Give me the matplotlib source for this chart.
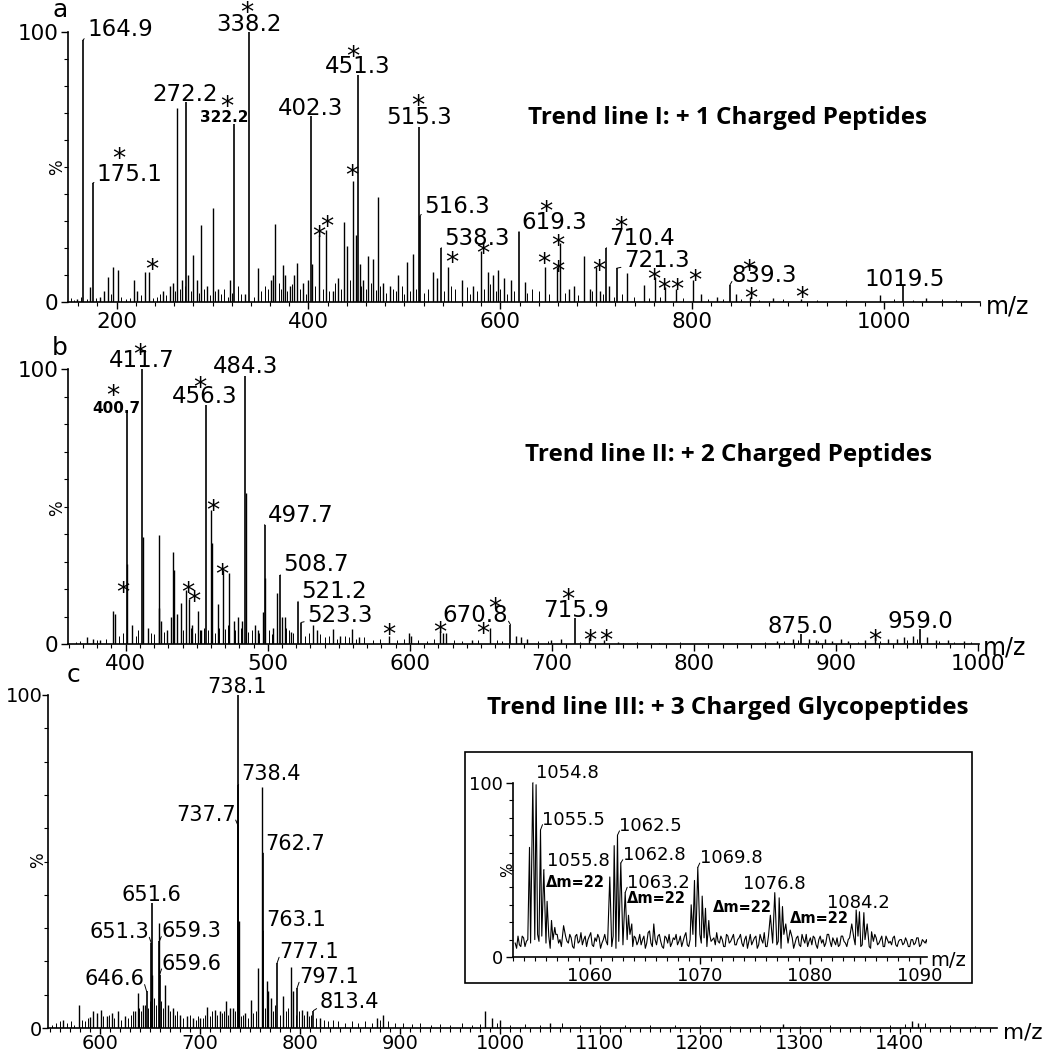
import numpy as np
import matplotlib
matplotlib.use("Agg")
import matplotlib.pyplot as plt
from matplotlib.patches import Rectangle
from matplotlib.ticker import MultipleLocator

# ---------------- panel a : +1 charged peptides ----------------
a_lab_mz = [164.9, 175.1, 272.2, 322.2, 338.2, 402.3, 451.3, 515.3, 516.3, 538.3,
            619.3, 710.4, 721.3, 839.3, 1019.5]
a_lab_int = [97, 44, 74, 66, 100, 69, 84, 65, 32, 20, 26, 20, 12.5, 6.3, 6]

a_mz = [158.6, 172.2, 182.6, 186.8, 191.0, 196.2, 201.4, 218.1, 221.3, 229.6,
        233.8, 248.4, 255.7, 258.9, 263.0, 268.3, 274.5, 279.7, 283.9, 288.1,
        294.4, 300.6, 305.8, 318.4, 334.0, 347.6, 361.1, 363.2, 365.3, 373.6,
        375.7, 380.9, 385.1, 388.2, 394.5, 399.7, 403.8, 411.1, 418.4, 425.7,
        430.9, 437.2, 440.3, 446.6, 449.7, 453.9, 457.0, 462.2, 467.4, 472.6,
        477.8, 485.1, 493.5, 502.8, 509.1, 530.0, 534.2, 545.8, 560.5, 572.0,
        579.4, 586.7, 592.0, 597.2, 603.5, 610.9, 625.2, 646.5, 659.4, 661.9,
        671.1, 676.6, 687.6, 693.2, 699.4, 704.2, 713.4, 732.5, 749.4, 761.2,
        771.5, 783.2, 800.9, 809.0, 825.5, 845.7, 860.4, 884.2, 913.6, 995.6,
        1044.1]
a_int = [1, 5.7, 2, 4, 9.4, 13, 11.8, 8, 4, 11,
         11, 4, 6, 7, 72, 8, 10, 17.4, 8, 28.5,
         6, 34.7, 5, 8, 3, 12.5, 8, 10, 29, 13.7,
         10, 6, 10, 14.4, 7, 8, 14, 24.8, 26.7, 4,
         9, 29.6, 20.7, 45, 25, 14, 8, 17, 16, 39,
         7, 6, 10, 15, 17.8, 11, 9, 13, 8, 6,
         19, 11, 10, 12, 9, 8, 7.5, 13, 13, 22,
         5, 6, 17, 5, 13, 4, 6, 10.6, 6.3, 9.4,
         5.7, 5, 8, 3, 2, 3, 2, 1.5, 1, 2.5,
         1.5]
a_grass_mz = [152, 156, 163, 169, 178, 194, 205, 210, 214, 225, 238, 242, 245, 251, 261,
              266, 271, 277, 286, 291, 297, 303, 309, 312, 316, 320, 326, 330, 343, 351,
              355, 358, 369, 371, 378, 383, 391, 397, 407, 415, 421, 428, 434, 443, 455,
              460, 465, 470, 475, 481, 488, 491, 497, 500, 506, 512, 520, 525, 541, 549,
              553, 565, 568, 576, 583, 589, 595, 600, 607, 614, 628, 633, 640, 651, 667,
              681, 696, 707, 718, 727, 739, 755, 766, 790, 816, 832, 851, 870, 895, 930,
              960, 1010, 1030, 1060, 1075]
a_grass_int = [1.5, 0.8, 2, 1, 1.5, 3, 2, 1, 1.5, 2.5, 1.5, 2, 3, 2.5, 4,
               5, 6, 4, 3.5, 5, 2.5, 4, 3, 5, 2, 3.5, 6, 3, 2, 4,
               6, 5, 7, 5, 4, 6.5, 5, 3, 6, 5, 4, 7, 5, 8, 6,
               5, 7, 4.5, 6, 3.5, 5, 4, 6, 3, 4, 5, 3.5, 5, 4, 6,
               5, 5.5, 3, 4, 5, 6.5, 4, 5, 3, 4, 3.5, 5, 4, 3, 3.5,
               2.5, 4, 3, 2, 3, 2, 1.5, 2, 1.5, 1.2, 1, 1.2, 0.8, 1, 0.8,
               0.7, 1.2, 0.8, 1, 0.6]
a_star_mz = [202.5, 236.9, 315.2, 336.0, 446.6, 445.5, 411.1, 419.4, 514.2, 548.9,
             581.5, 647.2, 645.5, 660.2, 659.4, 702.4, 725.5, 760.1, 770.3, 784.3,
             802.7, 858.6, 861.1, 914.3]
a_star_y = [55.5, 14.4, 74.8, 109.6, 93.3, 49.3, 26.7, 30.4, 75.2, 17.0,
            20.4, 36.0, 16.7, 23.3, 13.7, 14.0, 30.0, 10.7, 7.0, 7.0,
            10.4, 14.0, 3.7, 4.0]

# ---------------- panel b : +2 charged peptides ----------------
b_lab_mz = [400.7, 411.7, 456.3, 484.3, 497.7, 508.7, 521.2, 523.3, 670.8, 715.9, 875.0, 959.0]
b_lab_int = [85, 100, 87, 97.5, 43.3, 25, 15.4, 7.8, 7, 9.5, 3.6, 5.5]

b_mz = [372.6, 376.9, 382.0, 391.1, 392.3, 401.2, 404.2, 412.2, 415.5, 423.2,
        424.8, 423.6, 429.0, 431.6, 433.2, 433.9, 436.0, 438.7, 442.3, 444.6,
        447.0, 450.6, 453.0, 460.1, 461.0, 464.9, 468.5, 473.0, 476.0, 479.2,
        482.0, 484.7, 490.8, 493.4, 496.3, 498.2, 504.0, 506.4, 510.3, 511.9,
        516.0, 532.1, 534.5, 545.9, 551.0, 559.4, 564.0, 585.4, 599.6, 600.8,
        621.0, 623.4, 625.7, 643.5, 656.5, 674.8, 678.5, 682.2, 699.6, 706.6,
        725.7, 736.9, 746.8, 858.4, 869.6, 880.8, 885.7, 891.9, 896.9, 903.1,
        908.0, 920.5, 927.4, 936.6, 942.8, 947.7, 954.0, 963.9, 970.0, 978.7,
        989.9]
b_int = [2.7, 2, 1.5, 12, 11, 29, 7, 39, 6, 39.6,
         8.5, 13, 5, 10, 33.6, 27, 11, 15, 19.6, 16.4,
         7, 12, 5, 48.7, 36.7, 14.5, 27, 25.8, 8.5, 10,
         8.5, 55, 7, 5, 11.8, 24, 6, 18.5, 10, 10,
         4.5, 7, 5, 5.5, 3, 5.3, 2.5, 3, 4, 3,
         4.8, 4, 4, 1.5, 5.8, 3, 2.5, 2, 1.5, 2,
         2.5, 1.5, 0.8, 1, 2, 2, 1.5, 2, 1.2, 2,
         1, 1.5, 2.5, 2, 2, 2.5, 3, 2.5, 1.5, 1.5,
         1]
b_grass_mz = [365, 368, 380, 386, 395, 398, 407, 409, 418, 420, 427, 440, 446, 449, 452,
              455, 458, 463, 466, 470, 472, 477, 481, 486, 489, 494, 501, 503, 513, 515,
              518, 526, 529, 537, 540, 543, 549, 554, 557, 562, 568, 574, 579, 591, 596,
              606, 612, 617, 631, 637, 648, 661, 665, 690, 697, 720, 750, 760, 775, 790,
              810, 830, 850, 863, 873, 887, 915, 931, 950, 957, 972, 983, 995]
b_grass_int = [0.8, 1, 1.5, 2, 3, 4, 3, 5, 4, 3.5, 4.5, 5, 6, 4, 5,
               6, 5, 4, 6, 5.5, 7, 5, 6, 4.5, 5, 4, 5, 3.5, 6, 5,
               4, 3, 4, 3.5, 2.5, 3, 2, 3, 2.5, 2, 2.5, 1.5, 2, 1.5, 2,
               1.5, 1, 2, 1.5, 1, 1.5, 1.5, 1, 1.2, 1, 0.8, 0.5, 0.6, 0.5, 0.6,
               0.5, 0.5, 0.6, 1, 1.5, 1, 0.8, 1.2, 1.5, 1.8, 1, 0.8, 0.6]
b_star_mz = [391.1, 409.7, 398.3, 452.5, 461.3, 467.7, 443.5, 448.2, 585.4, 621.0,
             651.0, 659.7, 711.0, 726.7, 737.9, 926.9]
b_star_y = [92.6, 107.5, 21.0, 95.7, 51.0, 27.5, 21.0, 17.8, 5.9, 6.5,
            6.3, 15.4, 18.4, 3.6, 3.6, 3.6]

# ---------------- panel c : +3 charged glycopeptides ----------------
c_lab_mz = [646.6, 651.3, 651.6, 659.3, 659.6, 737.7, 738.1, 738.4, 762.7, 763.1,
            777.1, 797.1, 813.4]
c_lab_int = [11, 25.5, 37.5, 26, 16, 61, 100, 73, 52.5, 29, 19.5, 12, 5.2]

c_mz = [563.3, 578.7, 590.0, 593.3, 596.7, 600.7, 606.7, 611.7, 618.3, 625.0,
        635.0, 637.7, 643.3, 651.9, 659.0, 665.0, 668.3, 672.7, 680.0, 686.7,
        693.3, 700.0, 707.3, 715.0, 720.0, 726.0, 730.0, 733.3, 738.7, 745.0,
        750.7, 758.3, 762.4, 766.7, 768.3, 770.7, 783.3, 790.7, 793.3, 801.7,
        806.7, 820.0, 876.7, 883.3, 985.0, 991.7, 1000.0, 1050.0, 1283.0, 1412.0,
        1418.0]
c_int = [2.5, 7, 3.3, 5, 4.5, 5.5, 3.5, 4.5, 5, 3.5,
         5, 10.5, 7, 16, 31.5, 13, 7, 6, 4, 3.5,
         3, 3, 6.4, 5.5, 5, 8, 6, 6, 32, 4.5,
         8.4, 18, 72.5, 14, 11, 9, 9.5, 18.4, 11, 5.5,
         5, 3, 3, 4, 5, 3, 2.5, 1.5, 1.2, 2,
         1.5]
c_grass_mz = [552, 556, 560, 567, 571, 574, 582, 585, 588, 603, 609, 614, 621, 628, 631,
              633, 639, 641, 645, 648, 650, 654, 656, 661, 663, 670, 675, 677, 683, 690,
              696, 698, 703, 705, 710, 712, 717, 722, 724, 728, 735, 741, 743, 748, 753,
              756, 765, 773, 775, 780, 786, 788, 796, 799, 804, 809, 811, 816, 824, 828,
              833, 838, 845, 852, 858, 865, 872, 880, 888, 895, 903, 912, 920, 931, 940,
              950, 962, 972, 980, 997, 1010, 1025, 1040, 1062, 1080, 1100, 1125, 1150, 1175, 1200,
              1230, 1260, 1300, 1330, 1360, 1390, 1405, 1425, 1450, 1475]
c_grass_int = [1, 1.5, 2, 1.5, 2, 1, 2.5, 2, 3, 3.5, 4, 3, 2.5, 3, 4,
               5, 6, 5, 7, 6, 8, 9, 7, 8, 6, 5, 4, 5, 3, 4,
               2.5, 3.5, 3, 4, 3.5, 5, 4, 4.5, 5, 4, 5, 3.5, 4, 3, 4.5,
               5, 6, 5, 7, 4, 5, 6, 4, 5, 4, 3.5, 4, 3, 2.5, 2,
               2.5, 2, 1.5, 2, 1.5, 2, 1.5, 2.5, 2, 1.5, 1.5, 1.2, 1.5, 1, 1.2,
               1, 1.5, 1, 1.2, 1.5, 1, 1.2, 1, 1.5, 1, 0.8, 1, 0.8, 0.8, 1,
               0.7, 0.8, 0.7, 0.8, 0.7, 0.8, 1.2, 1.5, 0.8, 0.6]

# inset: isotope clusters of the glycopeptide series
ins_mz = [1054.5, 1054.8, 1055.1, 1055.5, 1055.8, 1056.1, 1056.5, 1056.8,
          1061.8, 1062.2, 1062.5, 1062.8, 1063.2, 1063.5, 1063.8,
          1069.2, 1069.5, 1069.8, 1070.2, 1070.5, 1070.8,
          1076.4, 1076.8, 1077.2, 1077.5, 1077.8, 1078.2,
          1083.8, 1084.2, 1084.5, 1084.9, 1085.2, 1085.6,
          1057.6, 1065.8]
ins_int = [63, 100, 99, 73, 50, 32, 21, 17,
           46, 64, 70, 54, 37, 24, 19,
           30, 44, 51.5, 35, 28, 21,
           24, 37, 34, 29, 19, 15.5,
           19, 27, 26, 25.5, 19, 14.5,
           18, 19]
ins_lab_mz = [1054.8, 1055.5, 1055.8, 1062.5, 1062.8, 1063.2, 1069.8, 1076.8, 1084.2]
# baseline noise of the profile trace, two interleaved sample sets
ins_noise = [8, 12, 6, 11, 9, 14, 7, 10, 13, 5, 11, 8, 12, 9, 6, 13, 10, 7, 12, 8,
             11, 5, 13, 9, 7, 12, 10, 14, 6, 9, 11, 8, 13, 7, 10, 12, 5, 9, 14, 8,
             10, 13, 6, 11, 9, 7, 12, 8, 15, 6, 10, 12, 9, 5, 11, 13, 8, 10, 7, 12,
             9, 14, 6, 11, 8, 10, 13, 7, 12, 5, 9, 11, 14, 8, 10, 6, 12, 9, 13, 7,
             11, 8, 10, 5, 13, 9, 12, 7, 10, 14, 6, 11, 8, 12, 9, 5, 13, 10, 7, 11,
             8, 12, 6, 10, 13, 9, 7, 11, 5, 12, 10, 8, 13, 6, 9, 11, 7, 12, 8, 10,
             6, 11, 9, 13, 7, 10, 12, 5, 9, 11, 8, 12, 6, 10, 9, 11, 7, 9, 10, 8,
             9, 6, 10, 8, 11, 7, 9, 10]
ins_noise_b = [5, 7, 12, 6, 10, 8, 13, 6, 9, 12, 7, 14, 5, 10, 13, 8, 6, 11, 9, 13,
               6, 12, 8, 14, 10, 6, 12, 7, 11, 13, 5, 10, 9, 12, 6, 8, 13, 11, 7, 12,
               6, 9, 12, 7, 13, 10, 5, 14, 8, 11, 7, 13, 6, 12, 8, 6, 11, 13, 9, 6,
               12, 7, 10, 13, 6, 12, 8, 11, 6, 13, 10, 7, 9, 12, 6, 13, 8, 11, 7, 10,
               13, 6, 12, 9, 7, 11, 5, 13, 8, 6, 12, 9, 13, 7, 11, 10, 6, 8, 12, 5,
               11, 7, 13, 8, 6, 11, 12, 7, 10, 8, 6, 13, 9, 11, 7, 6, 12, 9, 6, 11,
               10, 7, 12, 6, 11, 8, 6, 11, 13, 7, 10, 6, 12, 8, 7, 12, 6, 10, 7, 11,
               6, 10, 7, 11, 6, 10, 8, 6]
delta_text = "Δm=22"

titles = ["Trend line I: + 1 Charged Peptides",
          "Trend line II: + 2 Charged Peptides",
          "Trend line III: + 3 Charged Glycopeptides"]

# ---------------- layout (pixel offsets of the labels) ----------------
a_pos = {'164.9': (4, 13, 'left'), '175.1': (4, 11, 'left'), '272.2': (-1, 10, 'center'),
         '322.2': (-10, 8, 'center'), '338.2': (0, 10, 'center'), '402.3': (0, 10, 'center'),
         '451.3': (0, 11, 'center'), '515.3': (0, 11, 'center'), '516.3': (4, 12, 'left'),
         '538.3': (3, 12, 'left'), '619.3': (3, 12, 'left'), '710.4': (3, 12, 'left'),
         '721.3': (7, 10, 'left'), '839.3': (2, 12, 'left'), '1019.5': (2, 9, 'center')}
b_pos = {'400.7': (-10, 3, 'center'), '411.7': (-1, 11, 'center'), '456.3': (-1, 11, 'center'),
         '484.3': (0, 12, 'center'), '497.7': (3, 12, 'left'), '508.7': (3, 13, 'left'),
         '521.2': (3, 13, 'left'), '523.3': (6, 10, 'left'), '670.8': (-2, 12, 'right'),
         '715.9': (1, 10, 'center'), '875.0': (0, 10, 'center'), '959.0': (0, 10, 'center')}
c_pos = {'646.6': (-2, 14, 'right'), '651.3': (-2, 13, 'right'), '651.6': (0, 10, 'center'),
         '659.3': (2, 12, 'left'), '659.6': (2, 13, 'left'), '737.7': (-2, 12, 'right'),
         '738.1': (-1, 10, 'center'), '738.4': (3, 13, 'left'), '762.7': (3, 11, 'left'),
         '763.1': (3, 13, 'left'), '777.1': (2, 13, 'left'), '797.1': (2, 13, 'left'),
         '813.4': (6, 11, 'left')}
i_pos = {'1054.8': (3, 12, 'left'), '1055.5': (2, 12, 'left'), '1055.8': (3, 11, 'left'),
         '1062.5': (2, 11, 'left'), '1062.8': (2, 10, 'left'), '1063.2': (2, 12, 'left'),
         '1069.8': (2, 11, 'left'), '1076.8': (0, 11, 'center'), '1084.2': (2, 9, 'center')}
bold_labels = {'322.2', '400.7'}
delta_pos = [(1056.0, 43.9), (1063.4, 34.7), (1071.2, 29.3), (1078.2, 23.0)]

W, H = 1050, 1049
fig = plt.figure(figsize=(W / 100, H / 100), dpi=100)


def fx(x):
    return x / W


def fy(y):
    return 1 - y / H


def make_axes(x0, y0, x1, y1):
    return fig.add_axes([fx(x0), fy(y1), (x1 - x0) / W, (y1 - y0) / H])


def style(ax, xlim, major, minor, fs):
    ax.set_xlim(*xlim)
    ax.set_ylim(0, 100)
    ax.patch.set_alpha(0)
    for s in ('top', 'right'):
        ax.spines[s].set_visible(False)
    for s in ('left', 'bottom'):
        ax.spines[s].set_linewidth(1.2)
    ax.xaxis.set_major_locator(MultipleLocator(major))
    ax.xaxis.set_minor_locator(MultipleLocator(minor))
    ax.set_yticks([0, 100])
    ax.yaxis.set_minor_locator(MultipleLocator(10))
    ax.tick_params(which='major', length=5, width=1, labelsize=fs, pad=2)
    ax.tick_params(which='minor', length=3, width=0.8)


def sticks(ax, mz, inten, lw=1.0):
    ax.vlines(mz, 0, inten, color='k', lw=lw)


def labels(ax, mz, inten, pos, fs):
    for m, h in zip(mz, inten):
        t = f"{m:.1f}"
        dx, dy, ha = pos[t]
        kw = dict(fontsize=fs)
        if t in bold_labels:
            kw = dict(fontsize=11, fontweight='bold')
        if ha != 'center':
            kw['arrowprops'] = dict(arrowstyle='-', lw=0.7, color='k', shrinkA=0, shrinkB=0,
                                    relpos=(0 if ha == 'left' else 1, 0.24))
        ax.annotate(t, (m, h), xytext=(dx, dy), textcoords='offset pixels',
                    ha=ha, va='center_baseline', annotation_clip=False, **kw)


def stars(ax, mz, ys):
    for m, y in zip(mz, ys):
        ax.annotate('*', (m, y), xytext=(0, -5), textcoords='offset pixels',
                    ha='center', va='center_baseline', fontsize=19, annotation_clip=False)


# panel a
ax_a = make_axes(68, 32, 980, 302)
style(ax_a, (149.3, 1100), 200, 20, 15.5)
sticks(ax_a, a_grass_mz, a_grass_int, 0.7)
sticks(ax_a, a_mz, a_int)
sticks(ax_a, a_lab_mz, a_lab_int, 1.2)
labels(ax_a, a_lab_mz, a_lab_int, a_pos, 16.5)
stars(ax_a, a_star_mz, a_star_y)

# panel b
ax_b = make_axes(68, 369, 979, 644)
style(ax_b, (359.4, 1000.5), 100, 10, 15.5)
sticks(ax_b, b_grass_mz, b_grass_int, 0.7)
sticks(ax_b, b_mz, b_int)
sticks(ax_b, b_lab_mz, b_lab_int, 1.2)
labels(ax_b, b_lab_mz, b_lab_int, b_pos, 16.5)
stars(ax_b, b_star_mz, b_star_y)

# panel c
ax_c = make_axes(48, 695, 997, 1028)
style(ax_c, (548, 1497), 100, 10, 14)
ax_c.tick_params(which='major', length=4, pad=0)
sticks(ax_c, c_grass_mz, c_grass_int, 0.7)
sticks(ax_c, c_mz, c_int)
sticks(ax_c, c_lab_mz, c_lab_int, 1.2)
labels(ax_c, c_lab_mz, c_lab_int, c_pos, 15)

# inset
fig.patches.append(Rectangle((fx(465), fy(983)), (972 - 465) / W, (983 - 752) / H,
                             transform=fig.transFigure, fill=False, lw=1.2, ec='k'))
ax_i = make_axes(513, 783, 927, 957)
style(ax_i, (1053, 1090.64), 10, 1, 13)
grid = np.linspace(1053.2, 1090.6, len(ins_noise))
step = grid[1] - grid[0]
noise_mz = np.r_[grid, grid[:len(ins_noise_b)] + step / 2]
noise_int = np.r_[ins_noise, ins_noise_b].astype(float)
peaks = np.array(ins_mz)
keep = np.array([np.min(np.abs(peaks - m)) > 0.08 for m in noise_mz])
tr_mz = np.r_[noise_mz[keep], peaks]
tr_int = np.r_[noise_int[keep], ins_int]
order = np.argsort(tr_mz)
ax_i.plot(tr_mz[order], tr_int[order], color='k', lw=0.8)
ins_lab_int = [ins_int[int(np.argmin(np.abs(peaks - m)))] for m in ins_lab_mz]
labels(ax_i, ins_lab_mz, ins_lab_int, i_pos, 13)
for m, y in delta_pos:
    ax_i.text(m, y, delta_text, fontsize=10.5, fontweight='bold', ha='left',
              va='center_baseline')

# axis captions
for x, y, fs in [(986, 304, 17), (983, 645, 17), (1003, 1030, 15.5), (930, 958, 14)]:
    fig.text(fx(x), fy(y), 'm/z', fontsize=fs, ha='left', va='center_baseline')
for x, y, fs in [(57, 167, 12), (57, 508, 12), (38, 860, 12), (508, 870, 11)]:
    fig.text(fx(x), fy(y), '%', fontsize=fs, rotation=90, ha='center', va='center')
for x, y, t in [(52, 17, 'a'), (52, 355, 'b'), (67, 682, 'c')]:
    fig.text(fx(x), fy(y), t, fontsize=18, ha='left', va='baseline')
for (x, y), t in zip([(528, 115), (525, 452), (487, 705)], titles):
    fig.text(fx(x), fy(y), t, fontsize=17.5, fontweight='bold', family='Open Sans',
             ha='left', va='center_baseline')

fig.savefig('out.png', dpi=100)
